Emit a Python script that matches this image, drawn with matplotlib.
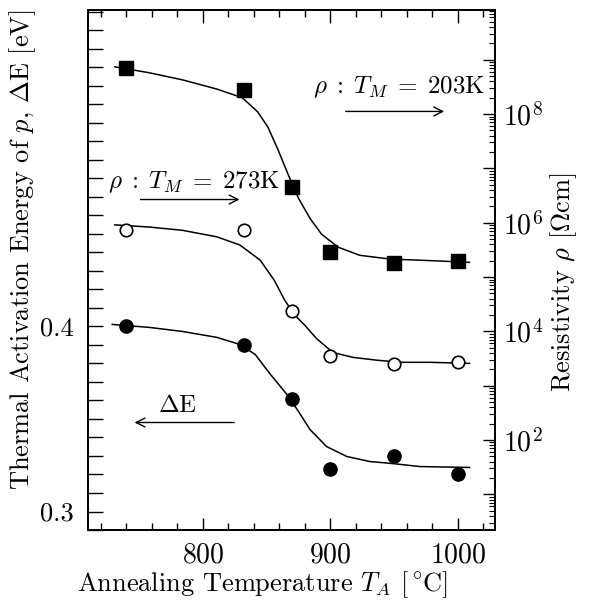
"""Annealing temperature vs activation energy / resistivity (twin axes)."""

import matplotlib
matplotlib.use("Agg")
import matplotlib.pyplot as plt
import matplotlib.ticker as ticker
import numpy as np

plt.rcParams["font.family"] = "serif"
plt.rcParams["font.serif"] = ["cmr10", "DejaVu Serif"]
plt.rcParams["mathtext.fontset"] = "cm"
plt.rcParams["axes.formatter.use_mathtext"] = True

# ---------------------------------------------------------------------------
# Data
# ---------------------------------------------------------------------------

anneal_T = [740, 832, 870, 900, 950, 1000]

# activation energy dE [eV] (filled circles, left axis)
dE = [0.400, 0.390, 0.361, 0.323, 0.330, 0.3205]
# resistivity, log10(rho [Ohm cm])
log_rho_203K = [8.85, 8.44, 6.66, 5.46, 5.26, 5.29]   # filled squares
log_rho_273K = [5.86, 5.86, 4.37, 3.54, 3.39, 3.43]   # open circles

# hand-drawn guide curves
curve_T_203K = [731, 758, 784, 811, 831, 843, 851, 859, 867, 875, 884, 893,
                906, 923, 947, 970, 990, 1009]
curve_rho_203K = [8.87, 8.76, 8.63, 8.46, 8.30, 8.04, 7.76, 7.34, 6.88, 6.45,
                  6.08, 5.79, 5.55, 5.40, 5.33, 5.31, 5.29, 5.27]

curve_T_273K = [731, 758, 784, 811, 829, 845, 856, 864, 872, 880, 889, 902,
                918, 936, 955, 978, 1009]
curve_rho_273K = [5.96, 5.92, 5.86, 5.74, 5.59, 5.31, 4.94, 4.58, 4.30, 4.11,
                  3.87, 3.61, 3.52, 3.47, 3.43, 3.43, 3.41]

curve_T_dE = [729, 758, 784, 811, 829, 841, 853, 866, 874, 884, 897, 913, 931,
              949, 970, 1009]
curve_dE = [0.4011, 0.3995, 0.3973, 0.3941, 0.3903, 0.3849, 0.3741, 0.3632,
            0.3551, 0.3443, 0.3351, 0.3297, 0.3270, 0.3259, 0.3243, 0.3238]

# ---------------------------------------------------------------------------
# Plot
# ---------------------------------------------------------------------------

fig = plt.figure(figsize=(5.93, 6.04), dpi=100)
ax = fig.add_axes([0.1484, 0.1225, 0.6863, 0.8609])
ax2 = ax.twinx()

rho = lambda v: np.power(10.0, v)

ax.plot(curve_T_dE, curve_dE, color="black", lw=1.1)
ax.plot(anneal_T, dE, "o", color="black", ms=9.5)

ax2.plot(curve_T_203K, rho(curve_rho_203K), color="black", lw=1.1)
ax2.plot(anneal_T, rho(log_rho_203K), "s", color="black", ms=9.5)
ax2.plot(curve_T_273K, rho(curve_rho_273K), color="black", lw=1.1)
ax2.plot(anneal_T, rho(log_rho_273K), "o", mfc="white", mec="black",
         mew=1.2, ms=9)

# axes ranges
ax.set_xlim(710, 1029)
ax.set_ylim(0.29, 0.571)
ax2.set_yscale("log")
ax2.set_ylim(10 ** 0.343, 10 ** 9.915)

# x ticks
ax.xaxis.set_major_locator(ticker.FixedLocator([800, 900, 1000]))
ax.xaxis.set_minor_locator(ticker.MultipleLocator(20))
ax.tick_params(axis="x", which="major", direction="in", length=9, width=1,
               top=True, labelsize=20, pad=9)
ax.tick_params(axis="x", which="minor", direction="in", length=5, width=1,
               top=True)

# left y ticks
ax.yaxis.set_major_locator(ticker.FixedLocator([0.3, 0.4, 0.5]))
ax.yaxis.set_major_formatter(ticker.FixedFormatter(["0.3", "0.4", ""]))
ax.yaxis.set_minor_locator(ticker.MultipleLocator(0.01))
ax.tick_params(axis="y", which="both", direction="in", length=11, width=1,
               labelsize=19, pad=10)

# right y ticks
ax2.yaxis.set_major_locator(ticker.FixedLocator([10.0 ** k for k in range(1, 10)]))
ax2.yaxis.set_major_formatter(ticker.FuncFormatter(
    lambda v, _: f"$10^{{{int(round(np.log10(v)))}}}$"
    if int(round(np.log10(v))) % 2 == 0 else ""))
ax2.yaxis.set_minor_locator(ticker.LogLocator(base=10, subs=np.arange(2, 10),
                                              numticks=20))
ax2.yaxis.set_minor_formatter(ticker.NullFormatter())
ax2.tick_params(axis="y", which="major", direction="in", length=9, width=1,
                labelsize=20, pad=6)
ax2.tick_params(axis="y", which="minor", direction="in", length=4, width=0.8)

for a in (ax, ax2):
    for s in a.spines.values():
        s.set_linewidth(1.4)

# labels
ax.set_xlabel(r"Annealing Temperature $T_A$ [$^\circ\!$C]", fontsize=19)
ax.xaxis.set_label_coords(0.428, -0.075)
ax.set_ylabel(r"Thermal Activation Energy of $p$, $\Delta\mathrm{E}$ [eV]",
              fontsize=19)
ax.yaxis.set_label_coords(-0.124, 0.54)
ax2.set_ylabel(r"Resistivity $\rho$ [$\Omega$cm]", fontsize=19)
ax2.yaxis.set_label_coords(1.13, 0.477)

# annotations
arrow = dict(arrowstyle="->", color="black", lw=1.0, mutation_scale=16)
ax.text(725.5, 0.4778, r"$\rho\;:\;T_M\;=\;273\mathrm{K}$", fontsize=18,
        ha="left", va="center")
ax.annotate("", xy=(831, 0.4686), xytext=(749, 0.4686), arrowprops=arrow)
ax.text(886.3, 0.5292, r"$\rho\;:\;T_M\;=\;203\mathrm{K}$", fontsize=18,
        ha="left", va="center")
ax.annotate("", xy=(991.4, 0.5162), xytext=(909.8, 0.5162), arrowprops=arrow)
ax.text(764.7, 0.3568, r"$\Delta\mathrm{E}$", fontsize=18,
        ha="left", va="center")
ax.annotate("", xy=(744.3, 0.3481), xytext=(826.7, 0.3481), arrowprops=arrow)

fig.savefig("out.png", dpi=100)
plt.close(fig)
